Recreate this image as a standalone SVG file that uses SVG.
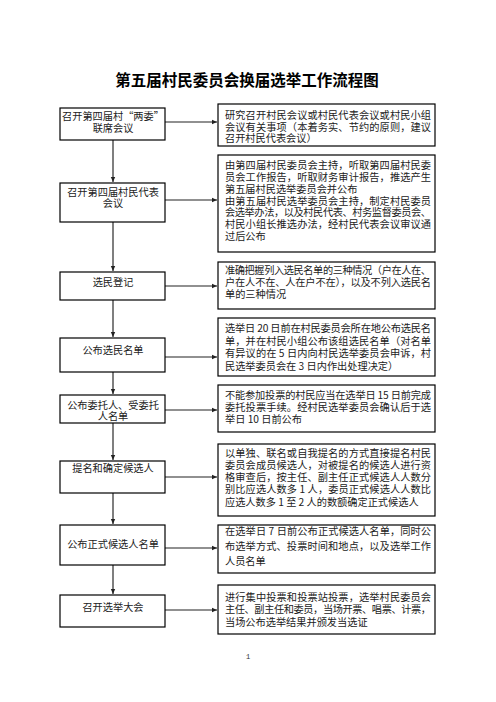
<svg xmlns="http://www.w3.org/2000/svg" width="496" height="702" viewBox="0 0 496 702">
<style>
.box{fill:#fff;stroke:#000;stroke-width:1.2}
.t{font-family:"Noto Sans CJK SC","Noto Sans",sans-serif;font-size:10.2px;fill:#222}
.c{text-anchor:middle}
.title{font-family:"Noto Sans CJK SC",sans-serif;font-size:15.5px;font-weight:bold;fill:#000;text-anchor:middle}
.v{stroke:#555;stroke-width:1.5;fill:none}
.h{stroke:#222;stroke-width:1.1;fill:none}
</style>
<defs>
<marker id="ah" markerWidth="6" markerHeight="6" refX="5" refY="3" orient="auto" markerUnits="userSpaceOnUse">
<path d="M0,0.8 L5,3 L0,5.2 Z" fill="#222"/>
</marker>
</defs>
<rect width="496" height="702" fill="#fff"/>
<text class="title" x="247" y="86">第五届村民委员会换届选举工作流程图</text>

<g id="connectors">
<path class="v" d="M113,140 V182" marker-end="url(#ah)"/>
<path class="v" d="M113,222 V271" marker-end="url(#ah)"/>
<path class="v" d="M113,300 V337" marker-end="url(#ah)"/>
<path class="v" d="M113,372 V394" marker-end="url(#ah)"/>
<path class="v" d="M113,423 V460" marker-end="url(#ah)"/>
<path class="v" d="M113,493 V524" marker-end="url(#ah)"/>
<path class="v" d="M113,565 V594" marker-end="url(#ah)"/>
<path class="h" d="M165,122 H217" marker-end="url(#ah)"/>
<path class="h" d="M165,200 H217" marker-end="url(#ah)"/>
<path class="h" d="M165,286 H217" marker-end="url(#ah)"/>
<path class="h" d="M165,357 H217" marker-end="url(#ah)"/>
<path class="h" d="M165,410 H217" marker-end="url(#ah)"/>
<path class="h" d="M165,477 H217" marker-end="url(#ah)"/>
<path class="h" d="M165,548 H217" marker-end="url(#ah)"/>
<path class="h" d="M165,610 H217" marker-end="url(#ah)"/>
</g>

<g id="n1">
<rect class="box" x="60" y="108" width="105" height="32"/>
<text class="t c" x="113" y="119.5">召开第四届村“两委”</text>
<text class="t c" x="113" y="131.5">联席会议</text>
</g>
<g id="r1">
<rect class="box" x="218" y="104" width="217" height="42"/>
<text class="t" x="225" y="119" textLength="206" lengthAdjust="spacing">研究召开村民会议或村民代表会议或村民小组</text>
<text class="t" x="225" y="130.5" textLength="206" lengthAdjust="spacing">会议有关事项（本着务实、节约的原则，建议</text>
<text class="t" x="225" y="142">召开村民代表会议）</text>
</g>

<g id="n2">
<rect class="box" x="60" y="183" width="105" height="39"/>
<text class="t c" x="113" y="196">召开第四届村民代表</text>
<text class="t c" x="113" y="206.5">会议</text>
</g>
<g id="r2">
<rect class="box" x="218" y="155" width="217" height="97"/>
<text class="t" x="225" y="169" textLength="206" lengthAdjust="spacing">由第四届村民委员会主持，听取第四届村民委</text>
<text class="t" x="225" y="181" textLength="206" lengthAdjust="spacing">员会工作报告，听取财务审计报告，推选产生</text>
<text class="t" x="225" y="192.5">第五届村民选举委员会并公布</text>
<text class="t" x="225" y="204.5" textLength="206" lengthAdjust="spacing">由第五届村民选举委员会主持，制定村民委员</text>
<text class="t" x="225" y="216" textLength="206" lengthAdjust="spacing">会选举办法，以及村民代表、村务监督委员会、</text>
<text class="t" x="225" y="228" textLength="206" lengthAdjust="spacing">村民小组长推选办法，经村民代表会议审议通</text>
<text class="t" x="225" y="239.5">过后公布</text>
</g>

<g id="n3">
<rect class="box" x="60" y="272" width="105" height="28"/>
<text class="t c" x="113" y="286">选民登记</text>
</g>
<g id="r3">
<rect class="box" x="218" y="262" width="217" height="47"/>
<text class="t" x="225" y="274" textLength="206" lengthAdjust="spacing">准确把握列入选民名单的三种情况（户在人在、</text>
<text class="t" x="225" y="286" textLength="206" lengthAdjust="spacing">户在人不在、人在户不在），以及不列入选民名</text>
<text class="t" x="225" y="297.5">单的三种情况</text>
</g>

<g id="n4">
<rect class="box" x="60" y="338" width="105" height="34"/>
<text class="t c" x="113" y="354">公布选民名单</text>
</g>
<g id="r4">
<rect class="box" x="218" y="318" width="217" height="58"/>
<text class="t" x="225" y="332" textLength="206" lengthAdjust="spacing">选举日 20 日前在村民委员会所在地公布选民名</text>
<text class="t" x="225" y="344.5" textLength="206" lengthAdjust="spacing">单，并在村民小组公布该组选民名单（对名单</text>
<text class="t" x="225" y="357" textLength="206" lengthAdjust="spacing">有异议的在 5 日内向村民选举委员会申诉，村</text>
<text class="t" x="225" y="369.5">民选举委员会在 3 日内作出处理决定）</text>
</g>

<g id="n5">
<rect class="box" x="60" y="395" width="105" height="28"/>
<text class="t c" x="113" y="409">公布委托人、受委托</text>
<text class="t c" x="113" y="420">人名单</text>
</g>
<g id="r5">
<rect class="box" x="218" y="385" width="217" height="47"/>
<text class="t" x="225" y="399" textLength="206" lengthAdjust="spacing">不能参加投票的村民应当在选举日 15 日前完成</text>
<text class="t" x="225" y="411" textLength="206" lengthAdjust="spacing">委托投票手续。经村民选举委员会确认后于选</text>
<text class="t" x="225" y="422.5">举日 10 日前公布</text>
</g>

<g id="n6">
<rect class="box" x="60" y="461" width="105" height="32"/>
<text class="t c" x="113" y="472">提名和确定候选人</text>
</g>
<g id="r6">
<rect class="box" x="218" y="444" width="217" height="72"/>
<text class="t" x="225" y="457" textLength="206" lengthAdjust="spacing">以单独、联名或自我提名的方式直接提名村民</text>
<text class="t" x="225" y="469" textLength="206" lengthAdjust="spacing">委员会成员候选人，对被提名的候选人进行资</text>
<text class="t" x="225" y="481" textLength="206" lengthAdjust="spacing">格审查后，按主任、副主任正式候选人人数分</text>
<text class="t" x="225" y="493" textLength="206" lengthAdjust="spacing">别比应选人数多 1 人，委员正式候选人人数比</text>
<text class="t" x="225" y="505.5">应选人数多 1 至 2 人的数额确定正式候选人</text>
</g>

<g id="n7">
<rect class="box" x="60" y="525" width="105" height="40"/>
<text class="t c" x="113" y="548">公布正式候选人名单</text>
</g>
<g id="r7">
<rect class="box" x="218" y="525" width="217" height="48"/>
<text class="t" x="225" y="535" textLength="206" lengthAdjust="spacing">在选举日 7 日前公布正式候选人名单，同时公</text>
<text class="t" x="225" y="550" textLength="206" lengthAdjust="spacing">布选举方式、投票时间和地点，以及选举工作</text>
<text class="t" x="225" y="565">人员名单</text>
</g>

<g id="n8">
<rect class="box" x="60" y="595" width="105" height="32"/>
<text class="t c" x="113" y="611">召开选举大会</text>
</g>
<g id="r8">
<rect class="box" x="218" y="585" width="217" height="49"/>
<text class="t" x="225" y="600.5" textLength="206" lengthAdjust="spacing">进行集中投票和投票站投票，选举村民委员会</text>
<text class="t" x="225" y="613" textLength="206" lengthAdjust="spacing">主任、副主任和委员，当场开票、唱票、计票，</text>
<text class="t" x="225" y="625.5">当场公布选举结果并颁发当选证</text>
</g>

<text x="248" y="659" font-family="Liberation Mono, monospace" font-size="7" text-anchor="middle" fill="#333">1</text>
</svg>
